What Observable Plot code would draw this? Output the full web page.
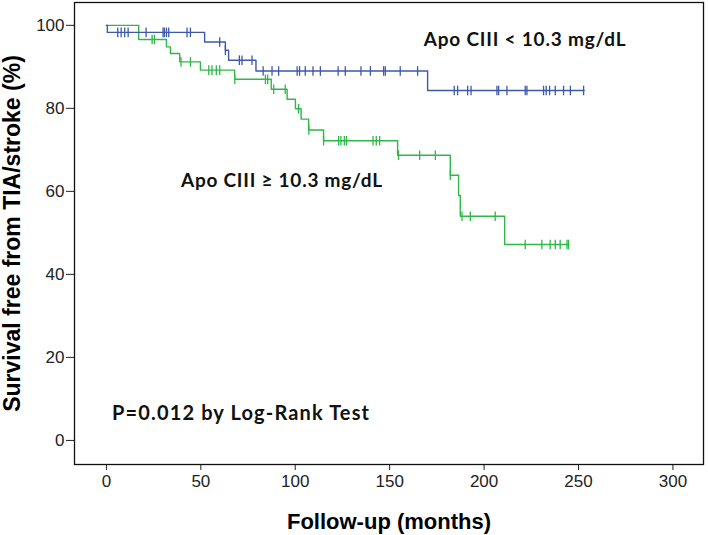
<!DOCTYPE html>
<html><head><meta charset="utf-8">
<script src="https://cdn.jsdelivr.net/npm/d3@7"></script>
<script src="https://cdn.jsdelivr.net/npm/@observablehq/plot@0.6"></script>
<style>body{margin:0;background:#fff}</style>
</head><body><div id="chart"></div>
<script>
// ---- Data ----
const xTicks = [0, 50, 100, 150, 200, 250, 300];
const yTicks = [0, 20, 40, 60, 80, 100];

// Apo CIII < 10.3 mg/dL (blue): step times (months) and survival (%)
const lowTime = [0, 0.5, 52.0, 63.0, 64.7, 79.2, 170.1, 253];
const lowSurv = [100, 98.3, 96.0, 94.0, 91.6, 89.0, 84.3, 84.3];
const lowCensor = [6.0, 7.8, 9.7, 11.5, 21.0, 30.0, 30.7, 31.8, 33.0, 42.7, 44.5, 60.0, 63.0, 70.4, 71.8, 77.1,
  83.0, 87.7, 91.2, 101.0, 102.3, 105.3, 109.4, 113.3, 122.7, 126.5, 134.8, 139.8, 146.8, 147.7, 155.6, 164.8,
  184.2, 186.0, 191.3, 193.1, 206.8, 207.7, 212.1, 221.8, 222.7, 231.5, 232.9, 234.7, 237.7, 242.1, 245.7, 252.7];

// Apo CIII >= 10.3 mg/dL (green)
const highTime = [0, 17.1, 31.8, 33.9, 38.8, 49.8, 67.9, 87.3, 95.7, 100.1, 103.1, 107.1, 115.0, 154.2, 182.1, 186.5, 187.4, 210.9, 245];
const highSurv = [100, 96.6, 94.8, 93.2, 91.2, 89.2, 87.0, 84.6, 82.2, 79.9, 77.4, 74.8, 72.2, 68.7, 63.9, 59.0, 54.0, 47.2, 47.2];
const highCensor = [24.2, 25.4, 39.5, 44.5, 54.2, 55.9, 58.2, 60.0, 68.0, 84.2, 85.4, 88.6, 94.7, 101.8, 107.2, 115.0,
  123.0, 124.2, 126.0, 127.1, 141.2, 142.9, 144.7, 154.7, 165.9, 174.2, 182.1, 188.3, 192.7, 205.9, 221.8, 230.6,
  235.0, 237.7, 240.3, 243.9, 244.7];

const groupNames = ["Apo CIII < 10.3 mg/dL", "Apo CIII \u2265 10.3 mg/dL"];
const pText = "P=0.012 by Log-Rank Test";
const xTitle = "Follow-up (months)";
const yTitle = "Survival free from TIA/stroke (%)";

const BLUE = "#3e58ac", GREEN = "#2eb848";

// ---- Build tables ----
const steps = (T, S) => T.map((t, i) => ({t, s: S[i]}));
const levelAt = (T, S, t) => { let s = S[0]; for (let i = 0; i < T.length; i++) if (T[i] <= t) s = S[i]; return s; };
const censors = (C, T, S) => C.map(t => ({t, s: levelAt(T, S, t)}));

const lowSteps = steps(lowTime, lowSurv), highSteps = steps(highTime, highSurv);
const lowC = censors(lowCensor, lowTime, lowSurv), highC = censors(highCensor, highTime, highSurv);

const tickSym = {draw(ctx, size) { const h = 4.8; ctx.moveTo(0, -h); ctx.lineTo(0, h); }};

const annFont = "Lato, 'Open Sans', sans-serif";

const chart = Plot.plot({
  width: 708, height: 535,
  marginLeft: 74, marginRight: 5, marginTop: 2, marginBottom: 71,
  style: {fontFamily: "'Liberation Sans', Arial, sans-serif", fontSize: "17px", color: "#222", background: "#fff"},
  x: {domain: [-16.9, 316.2]},
  y: {domain: [-5.8, 105.5]},
  marks: [
    Plot.axisX({ticks: xTicks, tickSize: 6, tickPadding: 4, label: null, tickFormat: d => d}),
    Plot.axisY({ticks: yTicks, tickSize: 8, tickPadding: 2, label: null, tickFormat: d => d}),
    Plot.line(highSteps, {x: "t", y: "s", curve: "step-after", stroke: GREEN, strokeWidth: 1.4}),
    Plot.line(lowSteps, {x: "t", y: "s", curve: "step-after", stroke: BLUE, strokeWidth: 1.4}),
    Plot.dot(highC, {x: "t", y: "s", symbol: tickSym, stroke: GREEN, strokeWidth: 1.3, r: 4}),
    Plot.dot(lowC, {x: "t", y: "s", symbol: tickSym, stroke: BLUE, strokeWidth: 1.3, r: 4}),
    Plot.frame({stroke: "#111", strokeWidth: 1.3}),
    Plot.text([groupNames[0]], {x: 168, y: 96.4, text: d => d, textAnchor: "start", lineAnchor: "middle",
      fontFamily: annFont, fontWeight: "bold", fontSize: 19, fill: "#111"}),
    Plot.text([groupNames[1]], {x: 39.5, y: 62.4, text: d => d, textAnchor: "start", lineAnchor: "middle",
      fontFamily: annFont, fontWeight: "bold", fontSize: 19, fill: "#111"}),
    Plot.text([pText], {x: 3.0, y: 6.5, text: d => d, textAnchor: "start", lineAnchor: "middle",
      fontFamily: annFont, fontWeight: "bold", fontSize: 20, fill: "#111"}),
    Plot.text([xTitle], {frameAnchor: "bottom", dy: 57, text: d => d, lineAnchor: "middle",
      fontWeight: "bold", fontSize: 22, fill: "#000"}),
    Plot.text([yTitle], {frameAnchor: "left", dx: -61.5, rotate: -90, text: d => d, textAnchor: "middle", lineAnchor: "middle",
      fontWeight: "bold", fontSize: 23, fill: "#000"})
  ]
});
// stretch the Calibri-like annotations to the reference's text widths
const annWidths = new Map([[groupNames[0], 202], [groupNames[1], 201], [pText, 257]]);
d3.select(chart).selectAll("text").each(function() {
  const w = annWidths.get(this.textContent);
  if (w) d3.select(this).attr("textLength", w).attr("lengthAdjust", "spacing");
});
document.getElementById("chart").appendChild(chart);
</script>
</body></html>
